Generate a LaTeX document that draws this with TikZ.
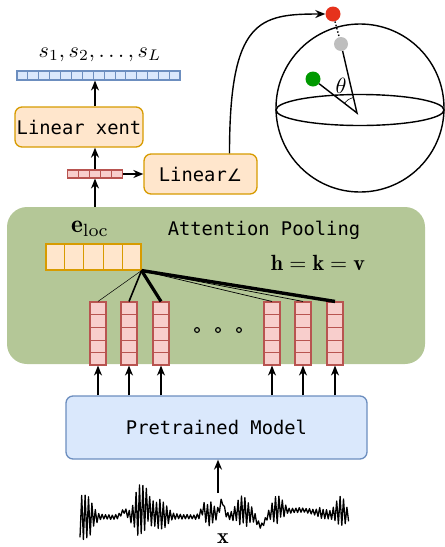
\documentclass[tikz,border=0pt]{standalone}
\usepackage{fontspec}
\newfontfamily\codefont{DejaVu Sans Mono}
\newfontfamily\symbfont{DejaVu Sans}
\usetikzlibrary{arrows.meta,calc}
\definecolor{blueFill}{HTML}{DAE8FC}
\definecolor{blueLine}{HTML}{6C8EBF}
\definecolor{orangeFill}{HTML}{FFE6CC}
\definecolor{orangeLine}{HTML}{D79B00}
\definecolor{redFill}{HTML}{F8CECC}
\definecolor{redLine}{HTML}{B85450}
\definecolor{poolFill}{RGB}{180,199,151}
\definecolor{dotRed}{RGB}{230,50,28}
\definecolor{dotGreen}{RGB}{0,153,0}
\definecolor{dotGray}{RGB}{190,190,190}
% cell dividers of a vector node: vertical ones / horizontal ones
\newcommand\vcells[3]{%
  \pgfmathtruncatemacro\lastcell{#2-1}%
  \foreach \k in {1,...,\lastcell}
    \draw[#3,line width=0.8pt] ($(#1.north west)!\k/#2!(#1.north east)$) -- ($(#1.south west)!\k/#2!(#1.south east)$);}
\newcommand\hcells[3]{%
  \pgfmathtruncatemacro\lastcell{#2-1}%
  \foreach \k in {1,...,\lastcell}
    \draw[#3,line width=0.8pt] ($(#1.north west)!\k/#2!(#1.south west)$) -- ($(#1.north east)!\k/#2!(#1.south east)$);}
\begin{document}
\begin{tikzpicture}[x=1pt,y=-1pt,>={Stealth[length=10pt,width=8pt]},
  box/.style={draw,rounded corners=7pt,line width=1.3pt,inner sep=0pt,
    font=\fontsize{18.8}{22}\selectfont\codefont},
  bluevec/.style={draw=blueLine,fill=blueFill,line width=1.1pt,inner sep=0pt},
  redvec/.style={draw=redLine,fill=redFill,line width=1.1pt,inner sep=0pt},
  orangevec/.style={draw=orangeLine,fill=orangeFill,line width=1.1pt,inner sep=0pt},
  mathlbl/.style={scale=2.2,inner sep=0pt},
  conn/.style={->,line width=1.4pt},
  ball/.style={circle,inner sep=0pt,minimum size=#1},
  declare function={
    bump(\x,\c,\w)=exp(-min(((\x-\c)/\w)^2,15));
    wenv(\x)=2.5+26*bump(\x,84,9)+27*bump(\x,141,8)+16*bump(\x,160,9)
      +11*bump(\x,210,7)+14*bump(\x,243,9)+13*bump(\x,277,7)
      +4*bump(\x,322,6)+15*bump(\x,341,7);
    wbase(\x)=517-6*bump(\x,124,4)-6*bump(\x,137,5)-10*bump(\x,146,4)
      -3*bump(\x,160,12)-6*bump(\x,203,3)-4*bump(\x,212,8)-15*bump(\x,222,3)
      -6*bump(\x,242,10)+10*bump(\x,261,5)-6*bump(\x,277,8)
      -7*bump(\x,300,25)-4*bump(\x,340,8);}]
\useasboundingbox (0,0) rectangle (445,547);

% attention pooling block
\node[fill=poolFill,rounded corners=20pt,minimum width=418pt,minimum height=157pt] (pool) at (216,285.5) {};
\node[font=\fontsize{18.8}{22}\selectfont\codefont] (pooltitle) at (264,230) {Attention Pooling};
\node[mathlbl] (hkv) at (318,263) {$\mathbf{h}=\mathbf{k}=\mathbf{v}$};
\node[mathlbl,scale=1.15] (eloclabel) at (90,229) {$\mathbf{e}_{\mathrm{loc}}$};
\node[orangevec,minimum width=95pt,minimum height=26pt] (eloc) at (93.5,257) {};
\vcells{eloc}{5}{orangeLine}

% encoder
\node[box,draw=blueLine,fill=blueFill,minimum width=301pt,minimum height=63pt] (pretrained) at (216.5,427.5) {Pretrained Model};

\foreach \cx [count=\i] in {98,129,161,272,303,335} {
  \node[redvec,minimum width=16pt,minimum height=63pt] (col\i) at (\cx,333.5) {};
  \hcells{col\i}{5}{redLine}
  \draw[conn] (col\i.south |- pretrained.north) -- (col\i.south);
}
\foreach \i/\w in {1/0.5,2/1.6,3/3.2,4/0.7,5/0.7,6/3.4}
  \draw[line width=\w pt] (eloc.south east) -- (col\i.north);
\foreach \cx in {197,218,239}
  \draw[line width=1.1pt] (\cx,330) circle (2.4);

% input waveform
\pgfmathsetseed{11}
\draw[line width=1.3pt,line join=round] plot[variable=\t,domain=0:158,samples=159]
  ({80+1.7*\t},{wbase(80+1.7*\t)+cos(180*mod(\t,2))*wenv(80+1.7*\t)*(0.85+0.15*rand)});
\coordinate (wavetop) at (218,493);
\node[mathlbl] (xlabel) at (223,539) {$\mathbf{x}$};
\draw[conn] (wavetop) -- (wavetop |- pretrained.south);

% heads
\node[redvec,minimum width=55pt,minimum height=8pt] (embvec) at (95,174) {};
\vcells{embvec}{5}{redLine}
\node[box,draw=orangeLine,fill=orangeFill,minimum width=128pt,minimum height=40pt] (xent) at (79,127) {Linear xent};
\node[box,draw=orangeLine,fill=orangeFill,minimum width=113pt,minimum height=40pt] (anglin) at (200.5,174) {Linear{\symbfont\fontsize{17}{20}\selectfont ∠}};
\node[bluevec,minimum width=163pt,minimum height=9pt] (scores) at (98.5,75.5) {};
\vcells{scores}{15}{blueLine}
\node[mathlbl] (scorelabel) at (100,55) {$s_1, s_2, \ldots, s_L$};

\draw[conn] (embvec.south |- pool.north) -- (embvec.south);
\draw[conn] (embvec.north) -- (embvec.north |- xent.south);
\draw[conn] (embvec.north |- xent.north) -- (embvec.north |- scores.south);
\draw[conn] (embvec.east) -- (anglin.west);

% hypersphere
\draw[line width=1.4pt] (360,108) circle (84);
\draw[line width=1.4pt] (360,110) ellipse (84 and 15.5);
\coordinate (O) at (357,113);
\node[ball=15pt,fill=dotRed] (red) at (333,14) {};
\node[ball=14pt,fill=dotGray] (gray) at (341,44) {};
\node[ball=15pt,fill=dotGreen] (green) at (313,79) {};
\draw[line width=1.4pt,dotted] (red) -- (gray);
\draw[line width=1.4pt] (gray) -- (O) -- (green);
\draw[line width=0.6pt] (O) ++(218:16) arc[start angle=218,end angle=257,radius=16];
\node[mathlbl] (theta) at (341,86) {$\theta$};
\draw[conn] ([xshift=29pt]anglin.north) .. controls +(0,-134) and +(-66,0) .. (red.west);
\end{tikzpicture}
\end{document}
